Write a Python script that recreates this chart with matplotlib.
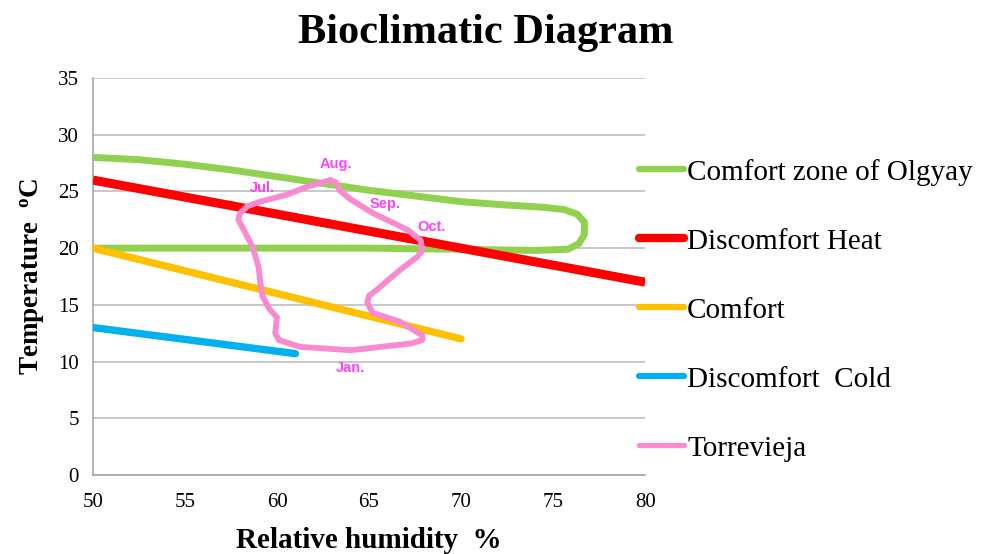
import matplotlib.pyplot as plt
from matplotlib.lines import Line2D

# comfort zone of Olgyay (closed loop, traced clockwise from the left top)
olgyay_x = [50, 52.5, 55, 57.5, 60, 62.5, 65, 67.5, 70, 72.5, 74.5, 75.6, 76.3, 76.7, 76.7, 76.4, 75.8, 74, 70, 65, 60, 55, 50]
olgyay_y = [28.0, 27.8, 27.4, 26.9, 26.3, 25.7, 25.1, 24.6, 24.1, 23.8, 23.6, 23.4, 23.0, 22.3, 21.2, 20.4, 19.9, 19.8, 19.9, 20.0, 20.0, 20.0, 20.0]

heat_x = [50, 80]
heat_y = [26, 17]

comfort_x = [50, 70]
comfort_y = [20, 12]

cold_x = [50, 61]
cold_y = [13, 10.7]

# Torrevieja monthly climate loop
torre_x = [62.9, 61.8, 60.5, 59.1, 58.4, 58.0, 57.9, 58.2, 58.7, 59.0, 59.1, 59.2, 59.6, 60.0, 59.9, 60.1, 61.25, 64.0,
           67.3, 67.9, 67.9, 66.7, 65.2, 64.9, 65.0, 65.4, 66.7, 67.6, 67.9, 67.8, 67.1, 65.2, 64.0, 63.4, 63.2, 62.9]
torre_y = [26.0, 25.5, 24.7, 24.1, 23.7, 23.1, 22.5, 21.6, 20.0, 18.3, 16.9, 15.8, 14.6, 13.9, 12.5, 11.9, 11.3, 11.0,
           11.6, 11.9, 12.3, 13.5, 14.3, 15.2, 15.8, 16.3, 18.1, 19.2, 19.8, 20.7, 21.6, 23.1, 24.3, 25.1, 25.8, 26.0]

month_names = ["Aug.", "Jul.", "Sep.", "Oct.", "Jan."]
month_x = [63.2, 59.2, 65.9, 68.4, 64.0]
month_y = [27.4, 25.3, 23.9, 21.9, 9.4]

c_green = "#92D050"
c_red = "#FF0000"
c_orange = "#FFC000"
c_blue = "#00B0F0"
c_pink = "#F98AD0"

fig = plt.figure(figsize=(9.91, 5.54), dpi=100)
ax = fig.add_axes([0.0938, 0.1426, 0.5572, 0.7166])

ax.plot(olgyay_x, olgyay_y, color=c_green, lw=5, solid_joinstyle="round", solid_capstyle="round", zorder=3)
ax.plot(heat_x, heat_y, color=c_red, lw=6.5, solid_capstyle="butt", zorder=3)
ax.plot(comfort_x, comfort_y, color=c_orange, lw=5.3, solid_capstyle="round", zorder=3)
ax.plot(cold_x, cold_y, color=c_blue, lw=5.3, solid_capstyle="round", zorder=3)
ax.plot(torre_x, torre_y, color=c_pink, lw=4.2, solid_joinstyle="round", solid_capstyle="round", zorder=4)

for name, mx, my in zip(month_names, month_x, month_y):
    ax.text(mx, my, name, color="#FF40FF", fontsize=10.5, fontweight="bold",
            ha="center", va="center", family="Liberation Sans", zorder=5)

ax.set_xlim(50, 80)
ax.set_ylim(0, 35)
ax.set_xticks(range(50, 81, 5))
ax.set_yticks(range(0, 36, 5))
ax.yaxis.grid(True, color="#BFBFBF", lw=1.2)
ax.set_axisbelow(True)
for s in ["top", "right"]:
    ax.spines[s].set_visible(False)
for s in ["left", "bottom"]:
    ax.spines[s].set_color("#A6A6A6")
    ax.spines[s].set_linewidth(1.2)
ax.tick_params(length=0, labelsize=15)
ax.tick_params(axis="x", pad=13)
ax.tick_params(axis="y", pad=10)
for lab in ax.get_xticklabels() + ax.get_yticklabels():
    lab.set_family("Liberation Serif")

ax.set_xlabel("Relative humidity  %", family="Liberation Serif", fontweight="bold", fontsize=21, labelpad=11)
ax.set_ylabel("Temperature  $\\mathregular{^{o}}$C", family="Liberation Serif", fontweight="bold", fontsize=19.5, labelpad=8)
fig.suptitle("Bioclimatic Diagram", family="Liberation Serif", fontweight="bold", fontsize=30.5, x=0.49, y=0.975)

handles = [Line2D([], [], color=c, lw=w, solid_capstyle="round") for c, w in
           [(c_green, 4.5), (c_red, 6), (c_orange, 4.5), (c_blue, 4.5), (c_pink, 3.8)]]
labels = ["Comfort zone of Olgyay", "Discomfort Heat", "Comfort", "Discomfort  Cold", "Torrevieja"]
fig.legend(handles, labels, loc="upper left", bbox_to_anchor=(0.63, 0.74), frameon=False,
           prop={"family": "Liberation Serif", "size": 21}, handlelength=1.55, handletextpad=0.1,
           labelspacing=1.46, borderpad=0)

fig.savefig("out.png", dpi=100)
